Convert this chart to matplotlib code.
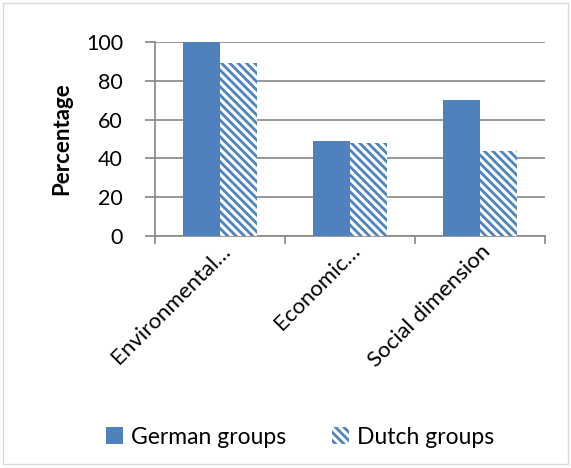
import matplotlib
matplotlib.use("Agg")
from matplotlib import pyplot as plt
from matplotlib.patches import Rectangle
import numpy as np

# chart data
categories = ["Environmental…", "Economic…", "Social dimension"]
german = [100, 49, 70]
dutch = [89, 48, 44]
yticks = [0, 20, 40, 60, 80, 100]

blue = "#4f81bd"
grey = "#868686"

plt.rcParams["font.family"] = ["Lato", "DejaVu Sans"]
plt.rcParams["hatch.color"] = blue
plt.rcParams["hatch.linewidth"] = 2.0

fig = plt.figure(figsize=(5.71, 4.68), dpi=100)
ax = fig.add_axes([0.2715, 0.4957, 0.683, 0.4145])

x = np.arange(len(categories))
w = 0.285
ax.bar(x - w / 2, german, w, color=blue, label="German groups", zorder=3)
ax.bar(x + w / 2, dutch, w, color="white", edgecolor=blue, linewidth=0,
       hatch="\\\\\\\\", label="Dutch groups", zorder=3)

ax.set_xlim(-0.5, len(categories) - 0.5)
ax.set_ylim(0, 100)
ax.set_yticks(yticks)
ax.yaxis.grid(True, color=grey, linewidth=1.2, zorder=0)
ax.set_axisbelow(True)

for s in ["top", "right"]:
    ax.spines[s].set_visible(False)
for s in ["left", "bottom"]:
    ax.spines[s].set_color(grey)
    ax.spines[s].set_linewidth(1.2)

ax.tick_params(axis="y", colors=grey, labelcolor="black", labelsize=15.5,
               length=7, width=1.2, pad=16)
ax.set_xticks(np.arange(len(categories) + 1) - 0.5)
ax.set_xticklabels([])
ax.tick_params(axis="x", colors=grey, length=6, width=1.2)
for i, c in enumerate(categories):
    ax.text(i + 0.0, -2.5, c, rotation=45, ha="right", va="top",
            rotation_mode="anchor", fontsize=16, transform=ax.transData)

ax.set_ylabel("Percentage", fontsize=16, fontweight="bold", labelpad=10)

fig.legend(loc="center", bbox_to_anchor=(0.525, 0.066), ncol=2,
           frameon=False, fontsize=16.5, handlelength=0.75, handleheight=0.75,
           columnspacing=2.0, handletextpad=0.35)

fig.patches.append(Rectangle((0.006, 0.008), 0.988, 0.986, transform=fig.transFigure,
                             fill=False, edgecolor="#d9d9d9", linewidth=1))

fig.savefig("out.png", dpi=100)
